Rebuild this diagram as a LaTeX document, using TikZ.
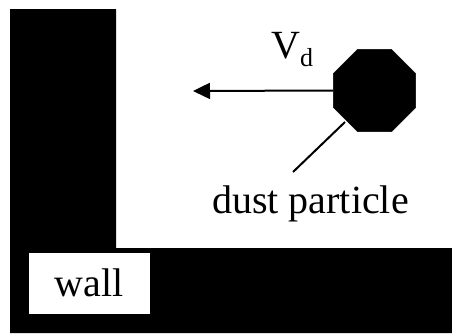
\documentclass[tikz,border=0pt]{standalone}
\usepackage{fontspec}
\setmainfont{Liberation Serif}
\usetikzlibrary{shapes.geometric,arrows.meta}
\tikzset{
  big/.style={font=\fontsize{40}{48}\selectfont, inner sep=0pt},
  small/.style={font=\fontsize{26}{30}\selectfont, inner sep=0pt},
  conn/.style={line width=2pt},
}
\begin{document}
\begin{tikzpicture}[x=1pt,y=-1pt]
\useasboundingbox (0,0) rectangle (452,333);
% wall (L shape)
\fill[black] (10,9) -- (116,9) -- (116,248) -- (452,248) -- (452,333) -- (10,333) -- cycle;
\node[fill=white, minimum width=121pt, minimum height=61pt, inner sep=0pt] (wallbox) at (89.5,283.5) {};
\node[big, anchor=base] (walltxt) at (89,296) {wall};
% particle
\node[regular polygon, regular polygon sides=8, fill=black, draw=black, line width=0.5pt,
      minimum size=89pt, inner sep=0pt] (p) at (374.5,90.5) {};
\coordinate (tip) at (193,91);
\draw[conn, -{Triangle[length=17pt,width=16pt]}] (p.west) -- (tip);
\node[big, anchor=base west] (V) at (271,58) {V};
\node[small, anchor=base west] (d) at (300,66) {d};
% label
\node[big, anchor=base west] (dust) at (212,213) {dust particle};
\coordinate (lstart) at (345,122);
\coordinate (lend) at (293,172);
\draw[conn] (lstart) -- (lend);
\end{tikzpicture}
\end{document}
